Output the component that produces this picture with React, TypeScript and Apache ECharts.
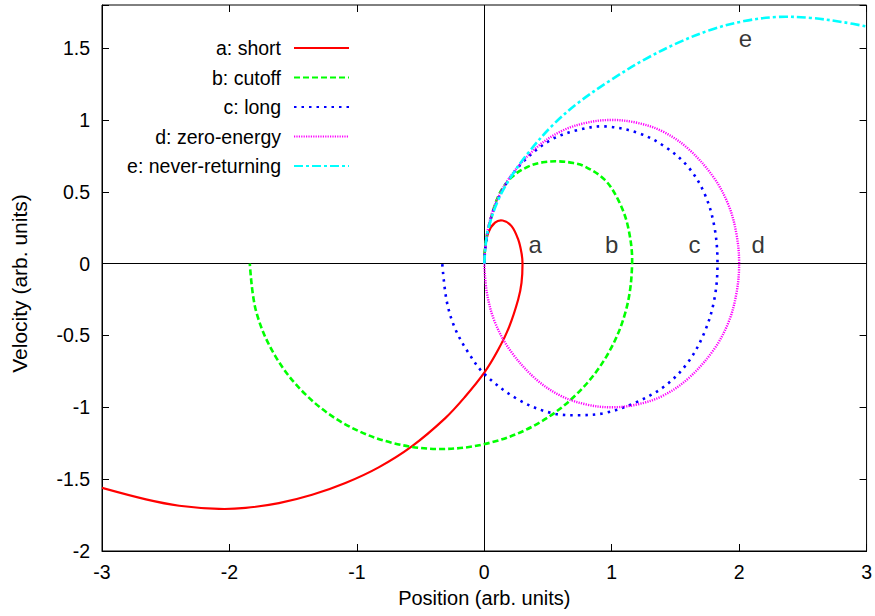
import React, { useEffect, useRef } from "react";
import * as echarts from "echarts";

// ---- data (position, velocity) ----
const seriesNames = ["a: short", "b: cutoff", "c: long", "d: zero-energy", "e: never-returning"];

const curveA: number[][] = [
  [0, 0], [0.005, 0.097], [0.031, 0.214], [0.084, 0.285], [0.144, 0.3], [0.214, 0.261],
  [0.266, 0.168], [0.292, 0.074], [0.3, 0.0], [0.292, -0.134], [0.266, -0.25], [0.196, -0.438],
  [0.11, -0.598], [0.0, -0.759], [-0.154, -0.93], [-0.308, -1.077], [-0.569, -1.272],
  [-0.829, -1.418], [-1.09, -1.527], [-1.351, -1.609], [-1.612, -1.667], [-1.873, -1.7],
  [-2.081, -1.707], [-2.394, -1.685], [-2.655, -1.641], [-3.0, -1.561],
];

const curveB: number[][] = [
  [0, 0], [0.005, 0.1], [0.03, 0.237], [0.11, 0.47], [0.214, 0.6], [0.344, 0.675], [0.46, 0.705],
  [0.58, 0.712], [0.7, 0.7], [0.788, 0.677], [0.944, 0.585], [1.05, 0.445], [1.127, 0.26],
  [1.16, 0.0], [1.109, -0.334], [0.959, -0.645], [0.721, -0.912], [0.41, -1.118], [0.048, -1.246],
  [-0.34, -1.29], [-0.728, -1.246], [-1.091, -1.118], [-1.401, -0.912], [-1.639, -0.645],
  [-1.79, -0.334], [-1.84, 0.0],
];

const curveC: number[][] = [
  [0, 0], [0.01, 0.12], [0.057, 0.33], [0.16, 0.54], [0.318, 0.72], [0.527, 0.863], [0.735, 0.93],
  [0.944, 0.955], [1.205, 0.91], [1.414, 0.816], [1.596, 0.677], [1.727, 0.49], [1.805, 0.26],
  [1.83, 0.0], [1.805, -0.25], [1.727, -0.48], [1.596, -0.69], [1.414, -0.854], [1.18, -0.97],
  [0.944, -1.04], [0.735, -1.055], [0.527, -1.04], [0.266, -0.946], [0.005, -0.772],
  [-0.125, -0.62], [-0.23, -0.45], [-0.295, -0.26], [-0.33, 0.0],
];

const curveD: number[][] = [
  [0, 0], [0.02, 0.2], [0.08, 0.4], [0.2, 0.6], [0.4, 0.8], [0.6, 0.92], [0.8, 0.98], [1.0, 1.0],
  [1.2, 0.98], [1.4, 0.92], [1.6, 0.8], [1.8, 0.6], [1.92, 0.4], [1.98, 0.2], [2.0, 0],
  [1.98, -0.2], [1.92, -0.4], [1.8, -0.6], [1.6, -0.8], [1.4, -0.92], [1.2, -0.98], [1.0, -1.0],
  [0.8, -0.98], [0.6, -0.92], [0.4, -0.8], [0.2, -0.6], [0.08, -0.4], [0.02, -0.2], [0, 0],
];

const curveE: number[][] = [
  [0, 0], [0.01, 0.12], [0.03, 0.237], [0.11, 0.445], [0.214, 0.61], [0.344, 0.77], [0.527, 0.955],
  [0.735, 1.118], [0.997, 1.28], [1.257, 1.42], [1.518, 1.536], [1.78, 1.628], [2.04, 1.688],
  [2.3, 1.717], [2.56, 1.71], [2.82, 1.68], [3.0, 1.65],
];

const curveLetters = ["a", "b", "c", "d", "e"];
const letterX = [0.4, 1.0, 1.65, 2.15, 2.05];
const letterY = [0.13, 0.13, 0.13, 0.13, 1.566];

const xTicks = ["-3", "-2", "-1", "0", "1", "2", "3"];
const yTicks = ["-2", "-1.5", "-1", "-0.5", "0", "0.5", "1", "1.5"];

const xTitle = "Position (arb. units)";
const yTitle = "Velocity (arb. units)";

// ---- styles ----
const FONT = "'Liberation Sans', Arial, Helvetica, sans-serif";
const curves = [curveA, curveB, curveC, curveD, curveE];
const colors = ["#ff0000", "#00ff00", "#0000ff", "#ff00ff", "#00ffff"];
const dashes: any[] = ["solid", [6, 3], [2.5, 5], [1.2, 1.2], [9, 3, 3, 3]];
const widths = [2.2, 2.6, 2.6, 2.4, 2.6];

export default function App() {
  const ref = useRef<HTMLDivElement>(null);
  useEffect(() => {
    if (!ref.current) return;
    const chart = echarts.init(ref.current, null, { renderer: "svg" });

    const fmt = (list: string[]) => (v: number) => {
      const s = String(Math.round(v * 1000) / 1000);
      return list.indexOf(s) >= 0 ? s : "";
    };

    const tickStyle = { show: true, inside: true, length: 7, lineStyle: { color: "#000", width: 1 } };

    // legend-only line series (no data), so the legend draws gnuplot-like samples
    const legendSeries = seriesNames.map((n, i) => ({
      name: n,
      type: "line",
      data: [],
      symbol: "none",
      xAxisIndex: 0,
      yAxisIndex: 0,
      lineStyle: { color: colors[i], width: widths[i], type: dashes[i], cap: "butt" },
      itemStyle: { color: colors[i] },
    }));

    // the curves themselves, drawn as smooth polylines through the axis scales
    const curveSeries = curves.map((c, i) => ({
      type: "custom",
      xAxisIndex: 0,
      yAxisIndex: 0,
      clip: true,
      z: 3,
      silent: true,
      data: [c[0]],
      encode: { x: 0, y: 1 },
      renderItem: (params: any, api: any) => ({
        type: "polyline",
        shape: { points: c.map((p) => api.coord(p)), smooth: 0.35 },
        style: {
          stroke: colors[i],
          lineWidth: widths[i],
          lineDash: dashes[i] === "solid" ? null : dashes[i],
          lineCap: "butt",
          fill: null,
        },
      }),
    }));

    const legends = seriesNames.map((n, i) => ({
      data: [n],
      orient: "vertical",
      right: 875 - 350,
      top: 48 + i * 29.5 - 10,
      align: "right",
      itemWidth: 55,
      itemHeight: 20,
      padding: 0,
      selectedMode: false,
      itemStyle: { color: "rgba(0,0,0,0)", borderWidth: 0, opacity: 0 },
      textStyle: { fontSize: 19.5, color: "#000", fontFamily: FONT, padding: [0, 8, 0, 0], lineHeight: 20 },
    }));

    chart.setOption({
      animation: false,
      backgroundColor: "#fff",
      textStyle: { fontFamily: FONT },
      legend: legends,
      grid: {
        left: 102, right: 6, top: 5, bottom: 65,
        show: true, borderColor: "#000", borderWidth: 1, backgroundColor: "transparent",
      },
      xAxis: [
        {
          type: "value", min: -3, max: 3, interval: 1, position: "bottom",
          axisLine: { show: true, onZero: false, lineStyle: { color: "#000", width: 1 } },
          axisTick: tickStyle,
          splitLine: { show: false },
          axisLabel: { color: "#000", fontSize: 19.5, fontFamily: FONT, margin: 11, formatter: fmt(xTicks) },
          name: xTitle, nameLocation: "middle", nameGap: 37,
          nameTextStyle: { color: "#000", fontSize: 20, fontFamily: FONT },
        },
        {
          type: "value", min: -3, max: 3, interval: 1, position: "top",
          axisLine: { show: false, onZero: false }, axisTick: tickStyle,
          axisLabel: { show: false }, splitLine: { show: false },
        },
      ],
      yAxis: [
        {
          type: "value", min: -2, max: 1.8, interval: 0.5, position: "left",
          axisLine: { show: true, onZero: false, lineStyle: { color: "#000", width: 1 } },
          axisTick: tickStyle,
          splitLine: { show: false },
          axisLabel: { color: "#000", fontSize: 19.5, fontFamily: FONT, margin: 12, formatter: fmt(yTicks) },
          name: yTitle, nameLocation: "middle", nameGap: 72, nameRotate: 90,
          nameTextStyle: { color: "#000", fontSize: 21, fontFamily: FONT, padding: [0, 11, 0, 0] },
        },
        {
          type: "value", min: -2, max: 1.8, interval: 0.5, position: "right",
          axisLine: { show: false, onZero: false }, axisTick: tickStyle,
          axisLabel: { show: false }, splitLine: { show: false },
        },
      ],
      series: [
        {
          type: "line",
          data: [],
          xAxisIndex: 0,
          yAxisIndex: 0,
          z: 1,
          markLine: {
            silent: true,
            symbol: "none",
            z: 1,
            label: { show: false },
            lineStyle: { color: "#000", width: 1, type: "solid" },
            data: [{ xAxis: 0 }, { yAxis: 0 }],
          },
        },
        ...legendSeries,
        ...curveSeries,
        {
          type: "scatter",
          xAxisIndex: 0,
          yAxisIndex: 0,
          symbolSize: 0,
          z: 4,
          silent: true,
          data: curveLetters.map((l, i) => ({ name: l, value: [letterX[i], letterY[i]] })),
          label: {
            show: true,
            position: "inside",
            formatter: (p: any) => p.name,
            color: "#000",
            fontSize: 24,
            fontFamily: FONT,
          },
        },
      ],
    });
    return () => chart.dispose();
  }, []);
  return <div ref={ref} style={{ position: "absolute", left: 0, top: 0, width: 875, height: 616 }} />;
}
